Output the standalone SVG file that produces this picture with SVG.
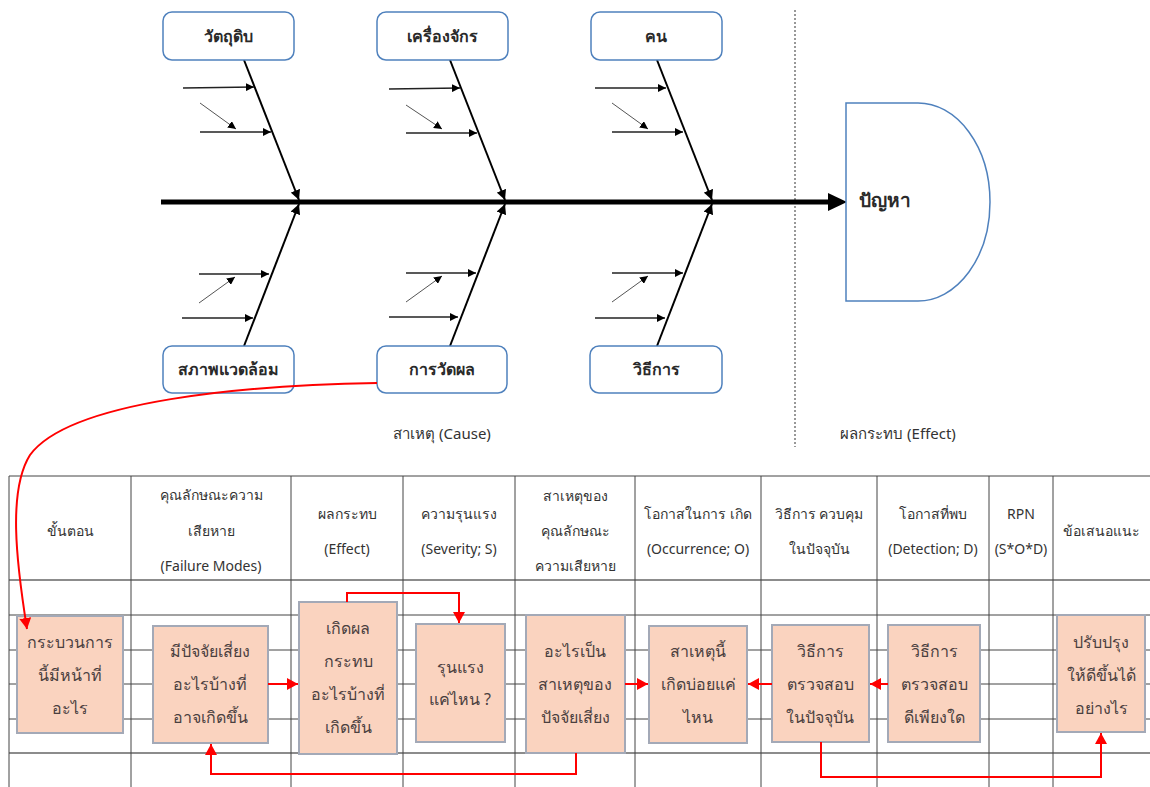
<svg xmlns="http://www.w3.org/2000/svg" width="1150" height="787" viewBox="0 0 1150 787">
<defs>
<style>
text{font-family:"Noto Sans","DejaVu Sans",sans-serif;fill:#333;text-anchor:middle;dominant-baseline:central}
.cat rect{fill:#fff;stroke:#4f81bd;stroke-width:1.5}
.cat text{font-size:16px;font-weight:600;fill:#2a2a2a}
.hd{font-size:14px}
.bx rect{fill:#fad3bf;stroke:#a3a9b7;stroke-width:2}
.bx text{font-size:16px;fill:#4a4040}
.bone{stroke:#000;stroke-width:2;fill:none}
.sub{stroke:#222;stroke-width:1.5;fill:none}
.sub2{stroke:#555;stroke-width:1;fill:none}
.grid line{stroke:#444;stroke-width:1}
.red{stroke:#f00;stroke-width:2;fill:none}
</style>
<marker id="ab" markerUnits="userSpaceOnUse" markerWidth="12" markerHeight="10" refX="10" refY="5" orient="auto"><path d="M0,0 L10,5 L0,10 Z" fill="#000"/></marker>
<marker id="as" markerUnits="userSpaceOnUse" markerWidth="10" markerHeight="8" refX="8" refY="4" orient="auto"><path d="M0,0 L8,4 L0,8 Z" fill="#000"/></marker>
<marker id="ar" markerUnits="userSpaceOnUse" markerWidth="12" markerHeight="12" refX="11" refY="6" orient="auto"><path d="M0,0 L11,6 L0,12 Z" fill="#f00"/></marker>
</defs>
<rect width="1150" height="787" fill="#fff"/>

<!-- dotted divider -->
<line x1="795" y1="10" x2="795" y2="447" stroke="#777" stroke-width="1.5" stroke-dasharray="2,2"/>
<text x="442" y="433" style="font-size:15px">สาเหตุ (Cause)</text>
<text x="898" y="433" style="font-size:15px">ผลกระทบ (Effect)</text>

<g id="connectors">
<!-- spine -->
<line x1="161" y1="202" x2="830" y2="202" stroke="#000" stroke-width="5"/>
<polygon points="828,193 847,202 828,211" fill="#000"/>
<!-- bones -->
<line class="bone" x1="244" y1="60" x2="299" y2="200" marker-end="url(#ab)"/>
<line class="bone" x1="450" y1="60" x2="505" y2="200" marker-end="url(#ab)"/>
<line class="bone" x1="657" y1="60" x2="712" y2="200" marker-end="url(#ab)"/>
<line class="bone" x1="244" y1="346" x2="299" y2="204" marker-end="url(#ab)"/>
<line class="bone" x1="450" y1="346" x2="505" y2="204" marker-end="url(#ab)"/>
<line class="bone" x1="657" y1="346" x2="712" y2="204" marker-end="url(#ab)"/>
<!-- sub causes top -->
<line class="sub" x1="183" y1="88" x2="254" y2="87" marker-end="url(#as)"/>
<line class="sub" x1="200" y1="132" x2="271" y2="132" marker-end="url(#as)"/>
<line class="sub2" x1="200" y1="103" x2="236" y2="129" marker-end="url(#as)"/>
<line class="sub" x1="389" y1="89" x2="460" y2="88" marker-end="url(#as)"/>
<line class="sub" x1="406" y1="133" x2="477" y2="133" marker-end="url(#as)"/>
<line class="sub2" x1="406" y1="105" x2="442" y2="129" marker-end="url(#as)"/>
<line class="sub" x1="595" y1="88" x2="666" y2="88" marker-end="url(#as)"/>
<line class="sub" x1="612" y1="132" x2="683" y2="132" marker-end="url(#as)"/>
<line class="sub2" x1="612" y1="103" x2="648" y2="129" marker-end="url(#as)"/>
<!-- sub causes bottom -->
<line class="sub" x1="199" y1="274" x2="269" y2="274" marker-end="url(#as)"/>
<line class="sub" x1="182" y1="318" x2="253" y2="318" marker-end="url(#as)"/>
<line class="sub2" x1="199" y1="303" x2="235" y2="277" marker-end="url(#as)"/>
<line class="sub" x1="406" y1="273" x2="476" y2="273" marker-end="url(#as)"/>
<line class="sub" x1="389" y1="317" x2="458" y2="317" marker-end="url(#as)"/>
<line class="sub2" x1="406" y1="302" x2="442" y2="276" marker-end="url(#as)"/>
<line class="sub" x1="612" y1="273" x2="683" y2="273" marker-end="url(#as)"/>
<line class="sub" x1="595" y1="318" x2="665" y2="318" marker-end="url(#as)"/>
<line class="sub2" x1="612" y1="302" x2="648" y2="276" marker-end="url(#as)"/>
</g>

<g id="n-material" class="cat"><rect x="163" y="12" width="131" height="48" rx="9"/><text x="228" y="36">วัตถุดิบ</text></g>
<g id="n-machine" class="cat"><rect x="377" y="12" width="131" height="48" rx="9"/><text x="442" y="36">เครื่องจักร</text></g>
<g id="n-man" class="cat"><rect x="591" y="12" width="131" height="48" rx="9"/><text x="656" y="36">คน</text></g>
<g id="n-env" class="cat"><rect x="163" y="346" width="131" height="47" rx="9"/><text x="228" y="369">สภาพแวดล้อม</text></g>
<g id="n-measure" class="cat"><rect x="377" y="346" width="130" height="47" rx="9"/><text x="442" y="369">การวัดผล</text></g>
<g id="n-method" class="cat"><rect x="590" y="346" width="132" height="47" rx="9"/><text x="656" y="369">วิธีการ</text></g>
<g id="n-problem"><path d="M846,103 H918 A72,99 0 0 1 918,301 H846 Z" fill="#fff" stroke="#4f81bd" stroke-width="1.5"/><text x="885" y="200" style="font-size:19px;font-weight:600;fill:#2a2a2a">ปัญหา</text></g>

<!-- table -->
<g class="grid">
<line x1="9" y1="476" x2="1150" y2="476"/>
<line x1="9" y1="580" x2="1150" y2="580" style="stroke:#666;stroke-width:1.5"/>
<line x1="9" y1="615" x2="1150" y2="615"/>
<line x1="9" y1="650" x2="1150" y2="650"/>
<line x1="9" y1="684" x2="1150" y2="684"/>
<line x1="9" y1="719" x2="1150" y2="719"/>
<line x1="9" y1="753" x2="1150" y2="753" style="stroke:#666;stroke-width:1.5"/>
<line x1="9" y1="476" x2="9" y2="787"/>
<line x1="131" y1="476" x2="131" y2="787"/>
<line x1="291" y1="476" x2="291" y2="787"/>
<line x1="403" y1="476" x2="403" y2="787"/>
<line x1="515" y1="476" x2="515" y2="787"/>
<line x1="635" y1="476" x2="635" y2="787"/>
<line x1="761" y1="476" x2="761" y2="787"/>
<line x1="877" y1="476" x2="877" y2="787"/>
<line x1="989" y1="476" x2="989" y2="787"/>
<line x1="1053" y1="476" x2="1053" y2="787"/>
</g>
<g id="headers" class="hd">
<text class="hd" x="70" y="530">ขั้นตอน</text>
<text class="hd" x="211" y="494">คุณลักษณะความ</text>
<text class="hd" x="211" y="530">เสียหาย</text>
<text class="hd" x="211" y="565">(Failure Modes)</text>
<text class="hd" x="347" y="513">ผลกระทบ</text>
<text class="hd" x="347" y="548">(Effect)</text>
<text class="hd" x="459" y="513">ความรุนแรง</text>
<text class="hd" x="459" y="548">(Severity; S)</text>
<text class="hd" x="575" y="495">สาเหตุของ</text>
<text class="hd" x="575" y="530">คุณลักษณะ</text>
<text class="hd" x="575" y="565">ความเสียหาย</text>
<text class="hd" x="698" y="513">โอกาสในการ เกิด</text>
<text class="hd" x="698" y="548">(Occurrence; O)</text>
<text class="hd" x="819" y="513">วิธีการ ควบคุม</text>
<text class="hd" x="819" y="548">ในปัจจุบัน</text>
<text class="hd" x="933" y="513">โอกาสที่พบ</text>
<text class="hd" x="933" y="548">(Detection; D)</text>
<text class="hd" x="1021" y="513">RPN</text>
<text class="hd" x="1021" y="548">(S*O*D)</text>
<text class="hd" x="1101" y="530">ข้อเสนอแนะ</text>
</g>

<g id="b1" class="bx"><rect x="17" y="616" width="106" height="117"/><text x="70" y="642">กระบวนการ</text><text x="70" y="675">นี้มีหน้าที่</text><text x="70" y="708">อะไร</text></g>
<g id="b2" class="bx"><rect x="153" y="626" width="115" height="117"/><text x="210" y="651">มีปัจจัยเสี่ยง</text><text x="210" y="684">อะไรบ้างที่</text><text x="210" y="717">อาจเกิดขึ้น</text></g>
<g id="b3" class="bx"><rect x="299" y="602" width="98" height="152"/><text x="348" y="628">เกิดผล</text><text x="348" y="661">กระทบ</text><text x="348" y="694">อะไรบ้างที่</text><text x="348" y="727">เกิดขึ้น</text></g>
<g id="b4" class="bx"><rect x="416" y="624" width="89" height="118"/><text x="460" y="667">รุนแรง</text><text x="460" y="699">แค่ไหน ?</text></g>
<g id="b5" class="bx"><rect x="526" y="615" width="99" height="138"/><text x="575" y="651">อะไรเป็น</text><text x="575" y="684">สาเหตุของ</text><text x="575" y="717">ปัจจัยเสี่ยง</text></g>
<g id="b6" class="bx"><rect x="649" y="626" width="98" height="117"/><text x="698" y="651">สาเหตุนี้</text><text x="698" y="684">เกิดบ่อยแค่</text><text x="698" y="717">ไหน</text></g>
<g id="b7" class="bx"><rect x="772" y="625" width="97" height="117"/><text x="820" y="651">วิธีการ</text><text x="820" y="684">ตรวจสอบ</text><text x="820" y="717">ในปัจจุบัน</text></g>
<g id="b8" class="bx"><rect x="888" y="625" width="92" height="117"/><text x="934" y="651">วิธีการ</text><text x="934" y="684">ตรวจสอบ</text><text x="934" y="717">ดีเพียงใด</text></g>
<g id="b9" class="bx"><rect x="1057" y="615" width="88" height="117"/><text x="1101" y="642">ปรับปรุง</text><text x="1101" y="675">ให้ดีขึ้นได้</text><text x="1101" y="708">อย่างไร</text></g>

<g id="flow">
<path class="red" d="M377,383 C250,385 70,400 30,455 C8,490 16,560 27,629" marker-end="url(#ar)"/>
<line class="red" x1="268" y1="684" x2="298" y2="684" marker-end="url(#ar)"/>
<path class="red" d="M347,602 V593 H459 V623" marker-end="url(#ar)"/>
<path class="red" d="M576,753 V774 H211 V744" marker-end="url(#ar)"/>
<line class="red" x1="625" y1="684" x2="648" y2="684" marker-end="url(#ar)"/>
<line class="red" x1="772" y1="684" x2="748" y2="684" marker-end="url(#ar)"/>
<line class="red" x1="888" y1="684" x2="870" y2="684" marker-end="url(#ar)"/>
<path class="red" d="M821,742 V777 H1101 V733" marker-end="url(#ar)"/>
</g>
</svg>
